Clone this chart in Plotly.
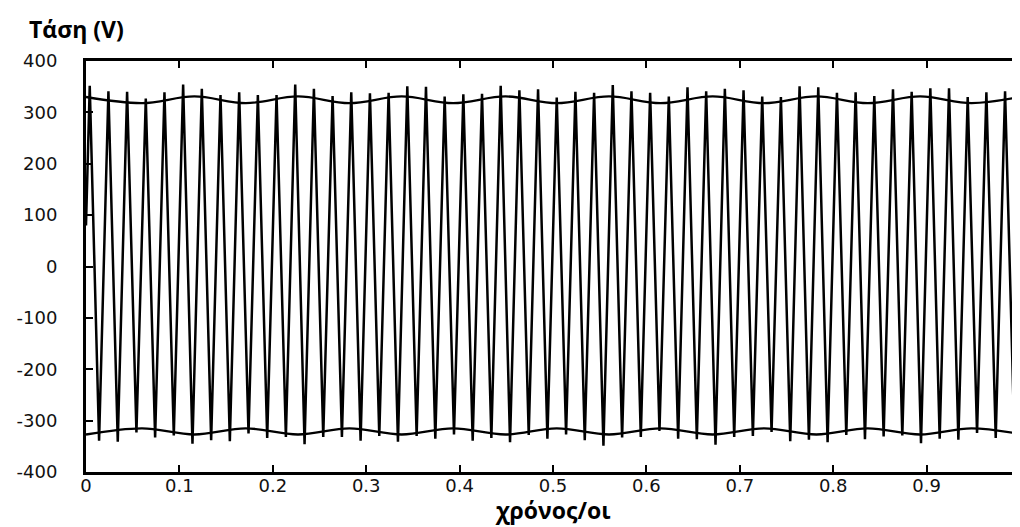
import plotly.graph_objects as go

# ---- data ----
# positive peaks (V), one per cycle, first at t = 0.004 s, every 0.02 s
pos_peaks = [352, 341, 340, 327, 339, 354, 346, 334, 339, 334,
             334, 354, 346, 332, 339, 337, 338, 351, 350, 331,
             335, 336, 352, 343, 345, 329, 340, 338, 353, 341,
             338, 331, 349, 341, 346, 343, 331, 330, 351, 349,
             338, 339, 332, 345, 340, 347, 347, 330, 339, 341]
# negative peaks (V), first at t = 0.014 s, every 0.02 s
neg_peaks = [-339, -341, -323, -333, -329, -345, -338, -340, -325, -334,
             -332, -346, -332, -332, -339, -330, -341, -330, -335, -327,
             -339, -334, -342, -328, -335, -327, -338, -349, -333, -332,
             -320, -335, -336, -347, -332, -330, -322, -340, -337, -342,
             -328, -336, -331, -329, -344, -335, -337, -324, -334, -334]
start_value = 80
end_value = 75
first_peak_time = 0.004
half_period = 0.01

# envelope (slow amplitude modulation) knots
env_t = [0, 0.06, 0.116, 0.171, 0.227, 0.282, 0.338, 0.393, 0.449, 0.504,
         0.56, 0.615, 0.671, 0.726, 0.782, 0.837, 0.893, 0.948, 1.0]
env_top = [330, 318, 331, 318, 331, 318, 331, 318, 331, 318,
           331, 318, 331, 318, 331, 318, 331, 318, 330]
env_bot = [-327, -315, -327, -315, -327, -315, -327, -315, -327, -315,
           -327, -315, -327, -315, -327, -315, -327, -315, -326]

x_ticks = [0, 0.1, 0.2, 0.3, 0.4, 0.5, 0.6, 0.7, 0.8, 0.9, 1]
x_tick_text = ["0", "0.1", "0.2", "0.3", "0.4", "0.5", "0.6", "0.7", "0.8", "0.9", "1"]
y_ticks = [400, 300, 200, 100, 0, -100, -200, -300, -400]
y_tick_text = ["400", "300", "200", "100", "0", "-100", "-200", "-300", "-400"]

# ---- build waveform series ----
wave_t = [0.0]
wave_v = [start_value]
for k in range(len(pos_peaks)):
    wave_t.append(first_peak_time + 2 * k * half_period)
    wave_v.append(pos_peaks[k])
    wave_t.append(first_peak_time + (2 * k + 1) * half_period)
    wave_v.append(neg_peaks[k])
wave_t.append(1.0)
wave_v.append(end_value)

fig = go.Figure()
fig.add_trace(go.Scatter(x=wave_t, y=wave_v, mode="lines",
                         line=dict(color="black", width=2.5), showlegend=False))
fig.add_trace(go.Scatter(x=env_t, y=env_top, mode="lines",
                         line=dict(color="black", width=2.3, shape="spline"), showlegend=False))
fig.add_trace(go.Scatter(x=env_t, y=env_bot, mode="lines",
                         line=dict(color="black", width=2.3, shape="spline"), showlegend=False))

tick_font = dict(family="DejaVu Sans", size=18, color="#111")
# the page body adds an 8 px offset, so the figure is 8 px smaller and margins shifted
fig.update_layout(
    template="none",
    width=1012, height=519,
    margin=dict(l=78, r=0, t=53, b=55),
    paper_bgcolor="white", plot_bgcolor="white",
    xaxis=dict(range=[0, 1], tickvals=x_ticks, ticktext=x_tick_text, automargin=False,
               showgrid=False, zeroline=False, showline=True, linecolor="black",
               linewidth=3, mirror="ticks", ticks="inside", ticklen=7, tickwidth=2,
               tickcolor="black", tickfont=tick_font, ticklabelstandoff=-5),
    yaxis=dict(range=[-400, 400], tickvals=y_ticks, ticktext=y_tick_text, automargin=False,
               showgrid=False, zeroline=False, showline=True, linecolor="black",
               linewidth=3, mirror="ticks", ticks="inside", ticklen=7, tickwidth=2,
               tickcolor="black", tickfont=tick_font, ticklabelstandoff=22),
    annotations=[
        dict(text="<b>Τάση (V)</b>", xref="paper", yref="paper",
             x=-0.0632, y=1.078, xanchor="left", yanchor="middle", showarrow=False,
             font=dict(family="Open Sans", size=23, color="black")),
        dict(text="<b>χρόνος/οι</b>", xref="paper", yref="paper",
             x=0.5, y=-0.0925, xanchor="center", yanchor="middle", showarrow=False,
             font=dict(family="Open Sans", size=23, color="black")),
    ],
)

fig.write_html("out.html")
